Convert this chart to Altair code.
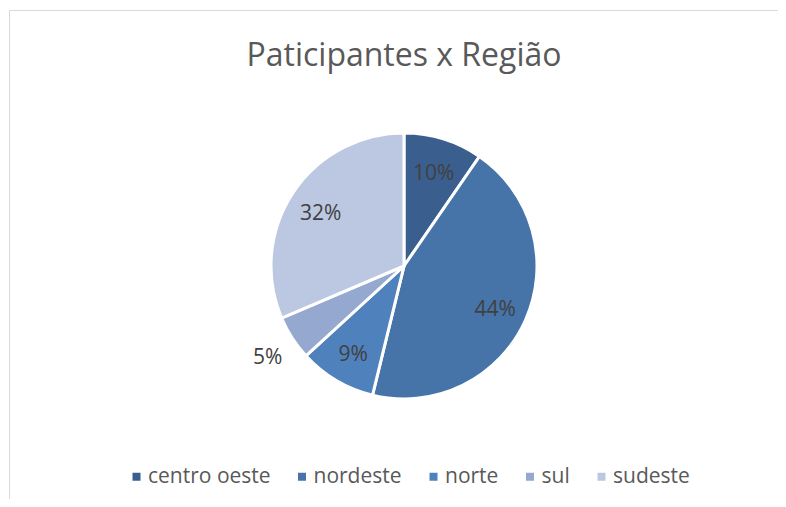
import altair as alt
import pandas as pd

title_text = "Paticipantes x Região"
regions = ["centro oeste", "nordeste", "norte", "sul", "sudeste"]
shares = [9.6, 44.2, 9.4, 5.4, 31.4]
labels = ["10%", "44%", "9%", "5%", "32%"]
colors = ["#3A5F8E", "#4674A9", "#4F81BD", "#95A9D0", "#BCC8E1"]

df = pd.DataFrame({"regiao": regions, "valor": shares, "rotulo": labels,
                   "ordem": list(range(len(regions)))})

CX, CY = 396, 258
R = 133
total = sum(shares)
tscale = alt.Scale(domain=[0, total])

color = alt.Color(
    "regiao:N",
    scale=alt.Scale(domain=regions, range=colors),
    sort=regions,
    legend=alt.Legend(
        title=None, orient="none", direction="horizontal", columns=5,
        legendX=118, legendY=458,
        symbolType="square", symbolSize=64, symbolStrokeWidth=0,
        labelFont="Open Sans", labelFontSize=21, labelColor="#595959",
        labelOffset=1, columnPadding=20.5, labelLimit=300,
    ),
)

base = alt.Chart(df)

pie = base.mark_arc(outerRadius=R, stroke="white", strokeWidth=3).encode(
    theta=alt.Theta("valor:Q", stack=True, scale=tscale),
    color=color,
    order=alt.Order("ordem:Q"),
    x=alt.value(CX), y=alt.value(CY),
)

lab = base.transform_stack(
    stack="valor", as_=["v0", "v1"], groupby=[],
    sort=[alt.SortField("ordem", order="ascending")],
).transform_calculate(mid="(datum.v0 + datum.v1) / 2")

inside = lab.transform_filter("datum.valor >= 6").mark_text(
    radius=100, font="Open Sans", fontSize=21, color="#404040", dy=3
).encode(
    theta=alt.Theta("mid:Q", stack=None, scale=tscale),
    text="rotulo:N",
    x=alt.value(CX), y=alt.value(CY),
)

outside = lab.transform_filter("datum.valor < 6").mark_text(
    radius=162, font="Open Sans", fontSize=21, color="#404040", dy=4
).encode(
    theta=alt.Theta("mid:Q", stack=None, scale=tscale),
    text="rotulo:N",
    x=alt.value(CX), y=alt.value(CY),
)

title = alt.Chart(alt.Data(values=[{"t": title_text}])).mark_text(
    font="Open Sans", fontSize=32, color="#595959", baseline="middle", align="center"
).encode(text="t:N", x=alt.value(396), y=alt.value(48))

frame = alt.Chart(alt.Data(values=[{"k": 1}])).mark_rect(
    fillOpacity=0, stroke="#d9d9d9", strokeWidth=1
).encode(
    x=alt.value(1.5), x2=alt.value(900),
    y=alt.value(2.5), y2=alt.value(700),
)

chart = alt.layer(frame, title, pie, inside, outside).properties(
    width=770, height=491,
    padding={"left": 0, "top": 0, "right": 0, "bottom": 0},
    autosize=alt.AutoSizeParams(type="none"),
).configure_view(stroke=None)

chart.save("out.html", embed_options={"renderer": "svg", "actions": False})
